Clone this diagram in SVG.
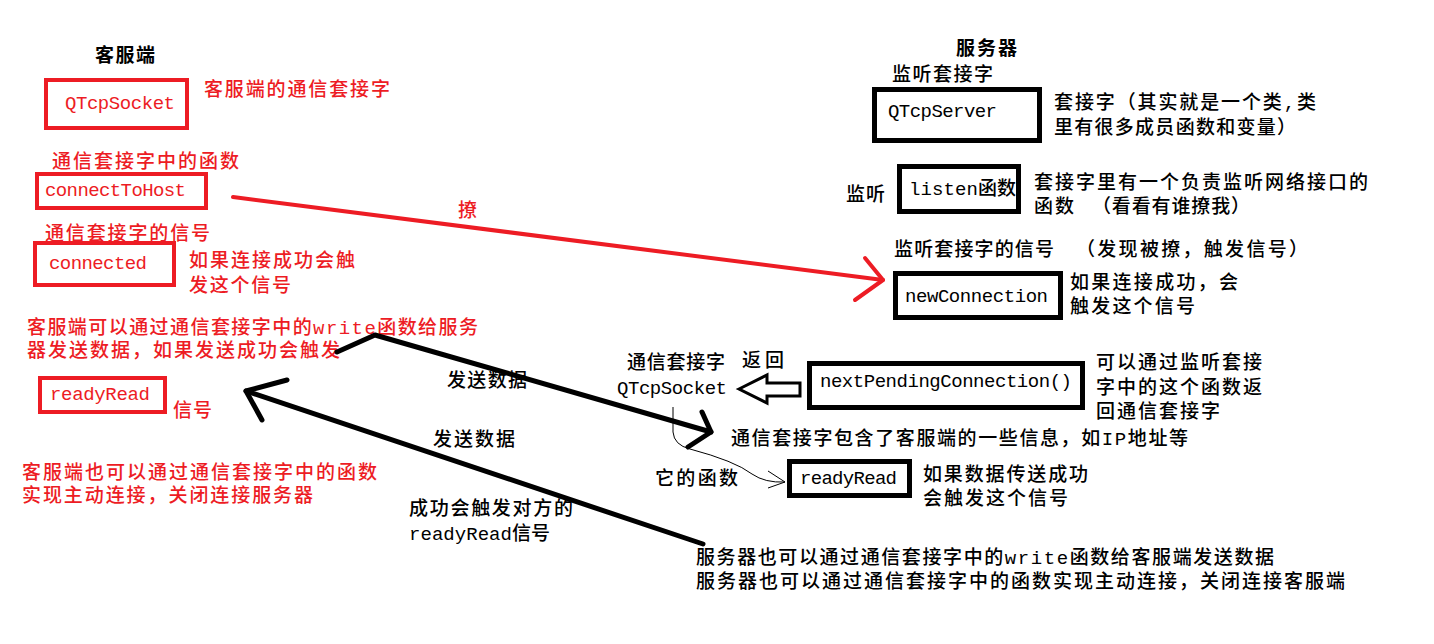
<svg xmlns="http://www.w3.org/2000/svg" width="1434" height="644" viewBox="0 0 1434 644">
<style>
text{font-family:"Liberation Mono","Noto Sans CJK SC",monospace;font-size:19px;font-weight:500}
.r{fill:#ed1c24}
.k{fill:#000}
.t{font-weight:bold}
.br{fill:none;stroke:#ed1c24;stroke-width:4}
.bk{fill:none;stroke:#000;stroke-width:5}
.big{stroke:#000;stroke-width:5;fill:none;stroke-linecap:round;stroke-linejoin:round}
</style>
<rect width="1434" height="644" fill="#fff"/>

<g id="client-title"><text class="k t" x="95" y="62" textLength="60" lengthAdjust="spacing">客服端</text></g>

<g id="client-socket">
<rect class="br" x="46" y="80" width="141" height="48"/>
<text class="r" x="65" y="109" textLength="110" lengthAdjust="spacing">QTcpSocket</text>
<text class="r" x="204" y="96" textLength="186" lengthAdjust="spacing">客服端的通信套接字</text>
</g>

<g id="client-connectToHost">
<text class="r" x="52" y="168" textLength="187" lengthAdjust="spacing">通信套接字中的函数</text>
<rect class="br" x="37" y="174" width="169" height="34"/>
<text class="r" x="45" y="196" textLength="141" lengthAdjust="spacing">connectToHost</text>
</g>

<g id="client-connected">
<text class="r" x="45" y="240" textLength="165" lengthAdjust="spacing">通信套接字的信号</text>
<rect class="br" x="35" y="243" width="139" height="42"/>
<text class="r" x="49" y="269" textLength="98" lengthAdjust="spacing">connected</text>
<text class="r" x="189" y="267" textLength="166" lengthAdjust="spacing">如果连接成功会触</text>
<text class="r" x="189" y="292" textLength="102" lengthAdjust="spacing">发这个信号</text>
</g>

<g id="client-write">
<text class="r" x="27" y="334" textLength="451" lengthAdjust="spacing">客服端可以通过通信套接字中的write函数给服务</text>
<text class="r" x="27" y="357" textLength="313" lengthAdjust="spacing">器发送数据，如果发送成功会触发</text>
</g>

<g id="client-readyRead">
<rect class="br" x="40" y="378" width="125" height="34"/>
<text class="r" x="50" y="400" textLength="100" lengthAdjust="spacing">readyRead</text>
<text class="r" x="173" y="417" textLength="39" lengthAdjust="spacing">信号</text>
</g>

<g id="client-close">
<text class="r" x="22" y="479" textLength="355" lengthAdjust="spacing">客服端也可以通过通信套接字中的函数</text>
<text class="r" x="22" y="502" textLength="291" lengthAdjust="spacing">实现主动连接，关闭连接服务器</text>
</g>

<g id="server-title"><text class="k t" x="956" y="55" textLength="61" lengthAdjust="spacing">服务器</text></g>

<g id="server-listen-socket">
<text class="k" x="892" y="81" textLength="101" lengthAdjust="spacing">监听套接字</text>
<rect class="bk" x="874.5" y="89.5" width="165" height="51"/>
<text class="k" x="888" y="117" textLength="109" lengthAdjust="spacing">QTcpServer</text>
<text class="k" x="1054" y="109" textLength="262" lengthAdjust="spacing">套接字（其实就是一个类,类</text>
<text class="k" x="1054" y="134" textLength="242" lengthAdjust="spacing">里有很多成员函数和变量）</text>
</g>

<g id="server-listen">
<text class="k" x="846" y="201" textLength="39" lengthAdjust="spacing">监听</text>
<rect class="bk" x="899.5" y="166.5" width="119" height="45"/>
<text class="k" x="909" y="195" textLength="107" lengthAdjust="spacing">listen函数</text>
<text class="k" x="1034" y="189" textLength="334" lengthAdjust="spacing">套接字里有一个负责监听网络接口的</text>
<text class="k" y="213"><tspan x="1034" textLength="40" lengthAdjust="spacing">函数</tspan><tspan x="1092" textLength="158" lengthAdjust="spacing">（看看有谁撩我）</tspan></text>
</g>

<g id="server-newConnection">
<text class="k" y="256"><tspan x="894" textLength="160" lengthAdjust="spacing">监听套接字的信号</tspan><tspan x="1076" textLength="232" lengthAdjust="spacing">（发现被撩，触发信号）</tspan></text>
<rect class="bk" x="895.5" y="273.5" width="165" height="44"/>
<text class="k" x="905" y="302" textLength="143" lengthAdjust="spacing">newConnection</text>
<text class="k" x="1070" y="289" textLength="168" lengthAdjust="spacing">如果连接成功，会</text>
<text class="k" x="1070" y="313" textLength="125" lengthAdjust="spacing">触发这个信号</text>
</g>

<g id="server-nextPending">
<rect class="bk" x="809.5" y="363.5" width="273" height="44"/>
<text class="k" x="820" y="387" textLength="252" lengthAdjust="spacing">nextPendingConnection()</text>
<text class="k" x="1096" y="369" textLength="166" lengthAdjust="spacing">可以通过监听套接</text>
<text class="k" x="1096" y="394" textLength="166" lengthAdjust="spacing">字中的这个函数返</text>
<text class="k" x="1096" y="418" textLength="124" lengthAdjust="spacing">回通信套接字</text>
</g>

<g id="server-socket">
<text class="k" x="627" y="369" textLength="98" lengthAdjust="spacing">通信套接字</text>
<text class="k" x="742" y="367" textLength="42" lengthAdjust="spacing">返回</text>
<text class="k" x="617" y="394" textLength="110" lengthAdjust="spacing">QTcpSocket</text>
<text class="k" x="731" y="445" textLength="457" lengthAdjust="spacing">通信套接字包含了客服端的一些信息，如IP地址等</text>
</g>

<g id="server-readyRead">
<text class="k" x="655" y="485" textLength="83" lengthAdjust="spacing">它的函数</text>
<rect class="bk" x="789.5" y="461.5" width="120" height="34"/>
<text class="k" x="800" y="484" textLength="97" lengthAdjust="spacing">readyRead</text>
<text class="k" x="923" y="481" textLength="165" lengthAdjust="spacing">如果数据传送成功</text>
<text class="k" x="923" y="505" textLength="145" lengthAdjust="spacing">会触发这个信号</text>
</g>

<g id="server-write">
<text class="k" x="696" y="564" textLength="578" lengthAdjust="spacing">服务器也可以通过通信套接字中的write函数给客服端发送数据</text>
<text class="k" x="696" y="588" textLength="649" lengthAdjust="spacing">服务器也可以通过通信套接字中的函数实现主动连接，关闭连接客服端</text>
</g>

<g id="connectors">
<g id="conn-connect">
<path d="M233,197 L883,280" stroke="#ed1c24" stroke-width="4" fill="none" stroke-linecap="round"/>
<path d="M865,258 L883,280 L855,300" stroke="#ed1c24" stroke-width="4" fill="none" stroke-linecap="round" stroke-linejoin="round"/>
<text class="r" x="458" y="217" textLength="20" lengthAdjust="spacing">撩</text>
</g>
<g id="conn-send-to-server">
<path class="big" d="M337,352 L375,335 L711,432"/>
<path class="big" d="M702,412 L711,432 L688,447"/>
<text class="k" x="447" y="387" textLength="80" lengthAdjust="spacing">发送数据</text>
</g>
<g id="conn-send-to-client">
<path class="big" d="M703,544 L246,391"/>
<path class="big" d="M287,380 L246,391 L262,420"/>
<text class="k" x="433" y="446" textLength="82" lengthAdjust="spacing">发送数据</text>
<text class="k" x="409" y="515" textLength="164" lengthAdjust="spacing">成功会触发对方的</text>
<text class="k" x="409" y="540" textLength="141" lengthAdjust="spacing">readyRead信号</text>
</g>
<g id="conn-return">
<polygon points="739,389 767,375 767,383 800,383 800,396 767,396 767,403" fill="#fff" stroke="#000" stroke-width="3" stroke-linejoin="miter"/>
</g>
<g id="conn-function">
<path d="M673,407 L673,432 Q674,445 690,449 Q735,461 752,474 Q765,483 785,482" stroke="#000" stroke-width="1" fill="none"/>
<path d="M768,471 L785,482 L768,488" stroke="#000" stroke-width="1" fill="none"/>
</g>
</g>
</svg>
